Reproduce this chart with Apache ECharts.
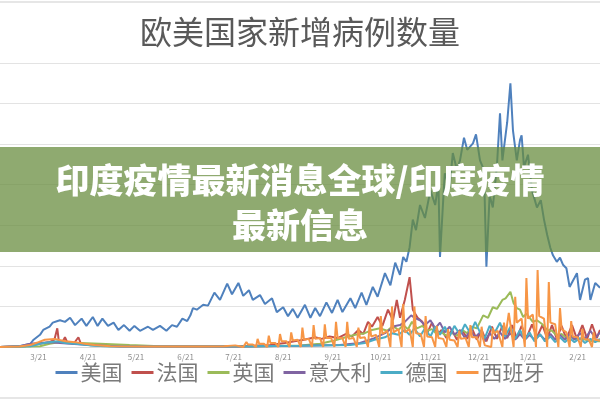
<!DOCTYPE html>
<html>
<head>
<meta charset="utf-8">
<script src="https://cdn.jsdelivr.net/npm/echarts@6/dist/echarts.min.js"></script>
<style>
html,body{margin:0;padding:0;background:#fff;}
#chart{width:600px;height:400px;}
</style>
</head>
<body>
<div id="chart"></div>
<script>
// x = days since 2020-02-26, y = new cases (thousands)
const startDate = Date.UTC(2020, 1, 26);
const seriesNames = ['美国', '法国', '英国', '意大利', '德国', '西班牙'];
const seriesColors = ['#4F81BD', '#C0504D', '#9BBB59', '#8064A2', '#4BACC6', '#F79646'];
const tickLabels = ['3/21','4/21','5/21','6/21','7/21','8/21','9/21','10/21','11/21','12/21','1/21','2/21'];
const tickDates = [[2020,2,21],[2020,3,21],[2020,4,21],[2020,5,21],[2020,6,21],[2020,7,21],[2020,8,21],[2020,9,21],[2020,10,21],[2020,11,21],[2021,0,21],[2021,1,21]];

const usData = [[0,0],[12,1],[19,4],[21,9],[25,15],[27,21],[31,25],[33,30],[36,32],[37.5,33],[40.6,31],[43.8,36],[46.9,27],[51,35],[54,26],[58,37],[61,26],[64,35],[67.5,26],[71,30],[74,21],[77.5,27],[81,20],[84,26],[87.5,20],[92.5,25],[95.6,21],[100,26],[104,20],[107.5,27],[110.6,25],[114,35],[117,32],[119,39],[120.6,48],[123,46],[127,52],[130,51],[134,67],[137.5,58],[142,78],[145,65],[149,79],[152,63],[155.6,70],[158,58],[162.5,64],[165.6,53],[170,60],[173,43],[177,49],[180,38],[183,47],[186,36],[190.6,52],[194,36],[197,48],[200,38],[204,55],[207.5,42],[211,58],[214,43],[219,60],[222,48],[226,67],[229,52],[233,74],[236,62],[240.6,91],[244,76],[247,104],[250,89],[252,111],[254,105],[256,123],[258,157],[260,144],[262.5,175],[265.6,159],[269,193],[272,175],[274,202],[275,111],[277,181],[278,214],[281,196],[283,239],[285.6,218],[287.5,230],[290,258],[292,243],[295.6,251],[297.5,262],[300,230],[302.5,218],[304,99],[306,187],[308,172],[310.6,224],[312.5,288],[314,230],[317,277],[319,325],[320.6,267],[323,230],[325,255],[326,261],[327.5,222],[330,237],[332.5,193],[335.6,172],[338,181],[340,157],[342,138],[344,122],[345.6,113],[348,105],[350,110],[352,101],[354,97],[356,74],[359,85],[360.6,91],[362.5,58],[365.6,83],[367.5,85],[369,58],[372,79],[375,73]];

const franceData = [[0,0],[15.6,1],[25,4],[31,6],[34,9],[35,7],[35.8,23],[36.8,7],[39,6],[40.6,12],[42,6],[46,4],[49,12],[50.6,4],[56,2.5],[75,1],[125,0.5],[150,1],[169,2.5],[178,5],[184,7],[190,9],[197,12],[201,10],[206,13],[211,11],[216,16],[220,13],[224,21],[227,16],[230,31],[232.5,25],[236,37],[239,26],[242.5,46],[245.6,33],[248,58],[250,36],[253,58],[256,86],[258,46],[261,36],[264,31],[267,17],[270,30],[273,14],[276,21],[279,11],[282.5,21],[285.6,9],[289,21],[292,10],[295,23],[298,9],[301,21],[304,7],[307.5,25],[310.6,10],[314,26],[317,11],[320,27],[323,11],[326,26],[329,11],[332.5,28],[335.6,12],[339,27],[342,11],[345,27],[348,10],[351,26],[354,10],[357.5,27],[360.6,10],[364,27],[367,10],[370,28],[373,11],[375,21]];

const ukData = [[0,0],[25,1],[31,4],[37.5,6],[44,5],[50,5],[62.5,4],[81,2.5],[100,1],[156,0.5],[187.5,2],[200,4],[209,8],[216,12],[222,15],[228,17],[232.5,21],[237.5,23],[242,20],[245.6,26],[249,21],[252,27],[255,22],[257.5,31],[260.6,23],[264,26],[267,20],[270,22],[273,16],[276,18],[279,14],[282.5,17],[285.6,14],[289,21],[292,17],[295,25],[298,23],[302,39],[305,36],[308,49],[310.6,47],[314,58],[316,60],[319,68],[321,54],[323,48],[325,46],[327,37],[329,41],[333,31],[335.6,33],[339,28],[342,21],[345,20],[348,14],[351,16],[354,11],[357.5,12],[360.6,9],[364,10],[369,7],[375,7]];

const italyData = [[0,0],[12.5,1],[19,4],[25,5],[31,6],[37.5,5],[44,4],[56,2.5],[75,0.6],[156,0.6],[187.5,1.5],[212.5,2.5],[225,5],[234,11],[240.6,17],[247,26],[250,27],[253,31],[257,39],[259,36],[262.5,33],[265.6,27],[269,33],[272,23],[275,30],[278,18],[281,25],[284,15],[287.5,21],[290.6,11],[294,20],[297,12],[300,18],[303,7],[306,17],[309,10],[312.5,18],[315.6,10],[319,17],[322,9],[325,16],[328,9],[331,15],[334,9],[337.5,15],[340.6,9],[344,16],[347,9],[350,15],[353,9],[356,16],[359,9],[362.5,17],[365.6,10],[369,20],[372,11],[375,18]];

const germanyData = [[0,0],[19,1],[25,4],[31,6],[36,7],[40.6,5],[47,4],[56,2],[69,0.6],[156,0.8],[187.5,1.5],[219,2.5],[228,5],[234,9],[240.6,12],[245,17],[249,15],[253,21],[256,15],[259,23],[262.5,13],[265.6,23],[269,13],[272,25],[275,15],[278,25],[281,13],[284,26],[287.5,15],[290.6,28],[294,17],[297,31],[300,18],[303,11],[306,26],[309,17],[312.5,30],[315.6,13],[319,25],[322,10],[325,21],[328,9],[331,18],[334,7],[337.5,16],[340.6,7],[344,13],[347,6],[350,12],[353,6],[356,11],[359,6],[362.5,11],[365.6,5],[369,10],[372,6],[375,10]];

const spainData = [[0,0],[12,0.5],[19,2.5],[24,6],[28,9],[34,10],[41,7],[47,6],[53,4],[59,2.5],[69,1],[94,0.5],[125,0.5],[140,1],[147,2],[152,0],
[154,6],[155,3],[158,3],[160,0],
[161,10],[162,4],[165,4],[167,0],
[168,14],[169,5],[172,5],[174,0],
[175,16],[176,7],[179,7],[181,0],
[182,18],[183,8],[186,9],[188,0],
[189,24],[190,9],[193,10],[195,0],
[196,27],[197,10],[200,11],[202,0],
[203,28],[204,11],[207,11],[209,0],
[210,31],[211,11],[214,11],[216,0],
[217,31],[218,10],[221,11],[223,0],
[224,24],[225,11],[228,12],[230,0],
[231,29],[232,13],[235,15],[237,0],
[238,38],[239,16],[242,20],[244,0],
[245,50],[246,18],[249,22],[251,0],
[252,53],[253,18],[256,22],[258,0],
[259,50],[260,17],[263,16],[265,0],
[266,38],[267,13],[270,12],[272,0],
[273,26],[274,11],[277,10],[279,0],
[280,22],[281,9],[284,8],[286,0],
[287,20],[288,10],[291,11],[293,0],
[294,27],[295,12],[298,12],[300,0],
[301,25],[302,10],[303,2],[307,0],
[308,23],[309,17],[311,20],[314,0],
[315,30],[316,15],[318,42],[321,0],
[322,62],[323,30],[326,35],[328,0],
[329,85],[330,35],[333,40],[335,0],
[336,95],[337,38],[340,35],[342,0],
[343,80],[344,30],[347,28],[349,0],
[350,48],[351,22],[354,18],[356,0],
[357,32],[358,13],[361,12],[363,0],
[364,22],[365,10],[368,9],[370,0],
[371,18],[372,9],[375,8]];

const allData = [usData, franceData, ukData, italyData, germanyData, spainData];
const tickDays = tickDates.map(d => (Date.UTC(d[0], d[1], d[2]) - startDate) / 86400000);

const chart = echarts.init(document.getElementById('chart'));
const FONT = '"Noto Sans CJK SC", "Noto Sans", sans-serif';
chart.setOption({
  backgroundColor: '#ffffff',
  animation: false,
  color: seriesColors,
  title: {
    text: '欧美国家新增病例数量',
    left: 'center',
    top: 11,
    textStyle: { fontSize: 32, fontWeight: 'normal', color: '#595959', fontFamily: FONT }
  },
  legend: {
    bottom: 12,
    left: 'center',
    icon: 'rect',
    itemWidth: 22,
    itemHeight: 3,
    itemGap: 9,
    textStyle: { fontSize: 21, color: '#7a7a7a', fontFamily: FONT, padding: [0, 0, 0, -2] },
    data: seriesNames
  },
  grid: { left: 0, right: 0, top: 63, bottom: 53, containLabel: false },
  xAxis: {
    type: 'value',
    min: 0,
    max: 375,
    splitLine: { show: false },
    axisTick: { show: false },
    axisLine: { show: true, lineStyle: { color: '#d9d9d9', width: 1 } },
    axisLabel: {
      customValues: tickDays,
      fontSize: 8,
      color: '#8c8c8c',
      margin: 6,
      fontFamily: FONT,
      formatter: function (v) {
        const i = tickDays.indexOf(v);
        return i >= 0 ? tickLabels[i] : '';
      }
    }
  },
  yAxis: {
    type: 'value',
    min: 0,
    max: 350,
    interval: 50,
    axisLabel: { show: false },
    axisLine: { show: false },
    axisTick: { show: false },
    splitLine: { lineStyle: { color: '#e3e3e3', width: 1 } }
  },
  series: seriesNames.map((name, i) => ({
    name: name,
    type: 'line',
    data: allData[i],
    showSymbol: false,
    symbol: 'none',
    lineStyle: { width: 2, color: seriesColors[i] },
    itemStyle: { color: seriesColors[i] }
  })),
  graphic: [
    { type: 'rect', z: 100, shape: { x: 0, y: 1, width: 600, height: 2 }, style: { fill: '#e6e6e6' } },
    { type: 'rect', z: 100, shape: { x: 0, y: 397, width: 600, height: 2 }, style: { fill: '#e6e6e6' } },
    { type: 'rect', z: 100, shape: { x: 0, y: 147, width: 600, height: 105 }, style: { fill: 'rgba(104,140,62,0.74)' } },
    { type: 'text', z: 101, x: 300, y: 180, style: { text: '印度疫情最新消息全球/印度疫情', fill: '#ffffff', font: '900 34px "Noto Sans CJK SC"', align: 'center', verticalAlign: 'middle', shadowColor: 'rgba(0,0,0,0.25)', shadowBlur: 2, shadowOffsetX: 1, shadowOffsetY: 1 } },
    { type: 'text', z: 101, x: 300, y: 225, style: { text: '最新信息', fill: '#ffffff', font: '900 34px "Noto Sans CJK SC"', align: 'center', verticalAlign: 'middle', shadowColor: 'rgba(0,0,0,0.25)', shadowBlur: 2, shadowOffsetX: 1, shadowOffsetY: 1 } }
  ]
});
</script>
</body>
</html>
